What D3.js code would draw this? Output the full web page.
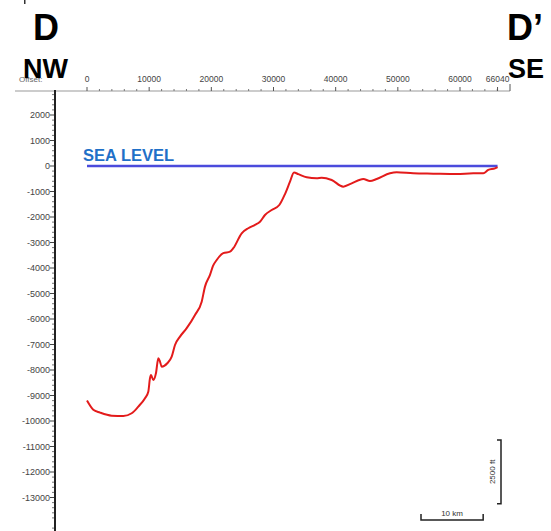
<!DOCTYPE html>
<html>
<head>
<meta charset="utf-8">
<script src="https://cdn.jsdelivr.net/npm/d3@7"></script>
<style>
  body { margin: 0; background: #fff; }
  svg { display: block; font-family: "Liberation Sans", Arial, sans-serif; }
</style>
</head>
<body>
<script>
// profile D - D' : offset (m) vs elevation (ft)
const offsets = [0, 1013, 2091, 3973, 5839, 7190, 8252, 9329, 9860, 10133, 10294, 10664, 11099, 11469, 11742, 12015,
  12916, 13624, 14155, 14959, 16037, 17372, 18450, 18980, 19785, 20267, 20862, 21924, 23001, 23532, 24883, 25945,
  27023, 27827, 28631, 29709, 30932, 31849, 32653, 33296, 34000, 35339, 36948, 37752, 39360, 41226, 42577, 44443,
  45520, 46598, 48737, 49815, 52485, 55702, 59466, 62136, 63745, 64549, 65627, 66040];
const elevations = [-9200, -9560, -9670, -9790, -9800, -9695, -9435, -9105, -8850, -8320, -8195, -8390, -8115, -7540, -7670, -7870,
  -7735, -7475, -7020, -6690, -6360, -5840, -5320, -4730, -4270, -3920, -3685, -3420, -3360, -3225, -2640, -2440,
  -2310, -2185, -1920, -1725, -1530, -1100, -615, -255, -320, -445, -480, -460, -550, -810, -680, -510,
  -590, -510, -285, -245, -285, -300, -315, -285, -285, -155, -90, -40];

const seaLevel = [[0, 0], [66040, 0]];

const xTickValues = [0, 10000, 20000, 30000, 40000, 50000, 60000, 66040];
const yTickValues = [2000, 1000, 0, -1000, -2000, -3000, -4000, -5000, -6000, -7000, -8000, -9000, -10000, -11000, -12000, -13000];

const W = 551, H = 531;
const svg = d3.select('body').append('svg').attr('width', W).attr('height', H);

const x = d3.scaleLinear().domain([0, 60000]).range([87, 460]);
const y = d3.scaleLinear().domain([0, -13000]).range([166, 497.5]);

// titles
svg.append('rect').attr('x', 24).attr('y', 0).attr('width', 1.5).attr('height', 4).attr('fill', '#333');
svg.append('text').attr('x', 33).attr('y', 40).attr('font-size', 36).attr('font-weight', 'bold').text('D');
svg.append('text').attr('x', 507).attr('y', 40).attr('font-size', 36).attr('font-weight', 'bold').text('D\u2019');

// x axis (ticks up)
const xAxisY = 91;
svg.append('line').attr('x1', 15).attr('x2', 510).attr('y1', xAxisY).attr('y2', xAxisY)
  .attr('stroke', '#999').attr('stroke-width', 1);
const xMinor = d3.range(0, 66001, 2000).filter(v => v % 10000 !== 0);
svg.append('g').selectAll('line').data(xMinor).join('line')
  .attr('x1', d => x(d)).attr('x2', d => x(d)).attr('y1', xAxisY).attr('y2', xAxisY - 2)
  .attr('stroke', '#777');
svg.append('g').selectAll('line').data(xTickValues).join('line')
  .attr('x1', d => x(d)).attr('x2', d => x(d)).attr('y1', xAxisY).attr('y2', xAxisY - 4)
  .attr('stroke', '#555');
svg.append('line').attr('x1', 510).attr('x2', 510).attr('y1', xAxisY).attr('y2', xAxisY - 7).attr('stroke', '#555');
svg.append('g').selectAll('text').data(xTickValues).join('text')
  .attr('x', d => x(d)).attr('y', 82).attr('text-anchor', 'middle')
  .attr('font-size', 8.5).attr('fill', '#444').text(d => d);
svg.append('text').attr('x', 19).attr('y', 82).attr('font-size', 8).attr('fill', '#666').text('Offset:');

svg.append('text').attr('x', 23).attr('y', 78).attr('font-size', 27).attr('font-weight', 'bold').text('NW');
svg.append('text').attr('x', 508).attr('y', 78).attr('font-size', 27).attr('font-weight', 'bold').text('SE');

// y axis (ticks left)
const yAxisX = 55;
const yMinor = d3.range(2800, -14400, -200).filter(v => v % 1000 !== 0);
svg.append('g').selectAll('line').data(yMinor).join('line')
  .attr('x1', yAxisX).attr('x2', yAxisX - 3).attr('y1', d => y(d)).attr('y2', d => y(d))
  .attr('stroke', '#555').attr('stroke-width', 0.8);
svg.append('g').selectAll('line').data(yTickValues).join('line')
  .attr('x1', yAxisX).attr('x2', yAxisX - 5).attr('y1', d => y(d)).attr('y2', d => y(d))
  .attr('stroke', '#444');
svg.append('line').attr('x1', yAxisX).attr('x2', yAxisX).attr('y1', 90).attr('y2', H)
  .attr('stroke', '#222').attr('stroke-width', 2);
svg.append('g').selectAll('text').data(yTickValues).join('text')
  .attr('x', yAxisX - 5).attr('y', d => y(d) + 3).attr('text-anchor', 'end')
  .attr('font-size', 9).attr('fill', '#444').text(d => d);

// sea level
svg.append('path').datum(seaLevel)
  .attr('d', d3.line().x(d => x(d[0])).y(d => y(d[1])))
  .attr('stroke', '#4b4bdc').attr('stroke-width', 2.5).attr('fill', 'none');
svg.append('text').attr('x', 83).attr('y', 161).attr('font-size', 16.5).attr('font-weight', 'bold')
  .attr('fill', '#1f70c8').text('SEA LEVEL');

// profile
svg.append('path').datum(offsets.map((o, i) => [o, elevations[i]]))
  .attr('d', d3.line().x(d => x(d[0])).y(d => y(d[1])).curve(d3.curveMonotoneX))
  .attr('stroke', '#e31b1b').attr('stroke-width', 2).attr('fill', 'none')
  .attr('stroke-linejoin', 'round');

// scale bars
const vx = 501, vTop = 440, vLen = y(-2500) - y(0);
svg.append('path')
  .attr('d', `M${vx - 4},${vTop}H${vx}V${vTop + vLen}H${vx - 4}`)
  .attr('stroke', '#222').attr('stroke-width', 1.5).attr('fill', 'none');
svg.append('text').attr('transform', `translate(${vx - 6},${vTop + vLen / 2}) rotate(-90)`)
  .attr('text-anchor', 'middle').attr('font-size', 8).attr('fill', '#333').text('2500 ft');

const hx = 421, hy = 520, hLen = x(10000) - x(0);
svg.append('path')
  .attr('d', `M${hx},${hy - 6}V${hy}H${hx + hLen}V${hy - 6}`)
  .attr('stroke', '#222').attr('stroke-width', 1.5).attr('fill', 'none');
svg.append('text').attr('x', hx + hLen / 2).attr('y', hy - 4).attr('text-anchor', 'middle')
  .attr('font-size', 8).attr('fill', '#333').text('10 km');
</script>
</body>
</html>
